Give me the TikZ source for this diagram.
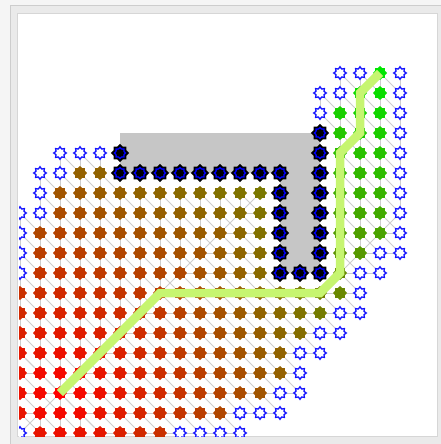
\documentclass[tikz,border=0pt]{standalone}
\usetikzlibrary{shapes.geometric}
\definecolor{rstart}{RGB}{255,0,0}
\definecolor{gend}{RGB}{0,230,0}
\definecolor{openblue}{RGB}{20,20,255}
\definecolor{wallblue}{RGB}{0,0,255}
\definecolor{obst}{RGB}{198,198,198}
\definecolor{pathgreen}{RGB}{198,245,112}
\definecolor{meshgray}{RGB}{205,205,205}
\definecolor{framebg}{RGB}{245,245,245}
\definecolor{frameband}{RGB}{234,234,234}
\definecolor{frameline}{RGB}{205,205,205}
\definecolor{panelline}{RGB}{214,214,214}
\pgfdeclarelayer{back}\pgfdeclarelayer{lines}\pgfsetlayers{back,lines,main}
\def\tF{F}\def\tB{B}\def\tW{W}
\newcommand\gettype[2]{\ifcsname T-#1-#2\endcsname\edef\tp{\csname T-#1-#2\endcsname}\else\def\tp{N}\fi}
\newcommand\settype[3]{\expandafter\xdef\csname T-#1-#2\endcsname{#3}}
\newif\ifopen
\newcommand\isopen[2]{\gettype{#1}{#2}\openfalse\ifx\tp\tF\opentrue\fi\ifx\tp\tB\opentrue\fi}
\newcommand\drawlinks[2]{%
  \pgfmathtruncatemacro\cn{#1+1}\pgfmathtruncatemacro\rn{#2+1}%
  \isopen{\cn}{\rn}%
  \ifopen\draw[meshline] (n-#1-#2) -- (n-\cn-\rn);\fi
  \pgfmathtruncatemacro\isR{(((#1>16)&&(#2<11))||((#1==16)&&(#2<3))) ? 1 : 0}%
  \ifnum\isR=1 \def\ox{17}\def\oy{10}\else\def\ox{3}\def\oy{16}\fi
  \pgfmathtruncatemacro\ddx{#1-\ox}%
  \pgfmathtruncatemacro\ddy{\oy-#2}%
  \pgfmathtruncatemacro\sx{\ddx>0 ? 1 : (\ddx<0 ? -1 : 0)}%
  \pgfmathtruncatemacro\sy{\ddy>0 ? 1 : (\ddy<0 ? -1 : 0)}%
  \pgfmathtruncatemacro\pc{abs(\ddy)>abs(\ddx) ? #1 : #1-(\sx)}%
  \pgfmathtruncatemacro\pr{abs(\ddx)>abs(\ddy) ? #2 : #2+(\sy)}%
  \ifnum\isR=1 \ifnum\ddx=0 \ifnum\ddy=0 \def\pc{16}\def\pr{11}\fi\fi\fi
  \isopen{\pc}{\pr}%
  \ifnum\pc=#1 \ifnum\pr=#2 \openfalse\fi\fi
  \ifopen\draw[meshline] (n-#1-#2) -- (n-\pc-\pr);\fi
}
\tikzset{
  meshline/.style={draw=meshgray, line width=1pt},
  fcell/.style={star, star points=8, star point ratio=1.3, minimum size=14pt, inner sep=0pt, draw=none},
  ocell/.style={star, star points=8, star point ratio=1.45, minimum size=12.5pt, inner sep=0pt, draw=openblue, line width=1.3pt, fill=white},
  wcell/.style={star, star points=8, star point ratio=1.3, minimum size=11pt, inner sep=0pt, fill=black, draw=black, double=wallblue, double distance=1.3pt, line width=1.9pt},
  pathline/.style={draw=pathgreen, line width=8.5pt, line cap=butt, line join=miter},
}
\begin{document}
\begin{tikzpicture}[x=1pt, y=-1pt]
\useasboundingbox (0,0) rectangle (441,444);
\begin{pgfonlayer}{back}
\fill[framebg] (0,0) rectangle (441,444);
\filldraw[fill=frameband, draw=frameline, line width=1pt] (10.5,5.5) rectangle (460,460);
\filldraw[fill=white, draw=panelline, line width=1pt] (17.5,13.5) rectangle (437.5,436.5);
\end{pgfonlayer}
\fill[obst] (120,133) -- (320,133) -- (320,273) -- (280,273) -- (280,173) -- (120,173) -- cycle;
\begin{scope}
\clip (19,14) rectangle (437,436);
\foreach \ri/\a/\b in {0/19/19, 1/18/19, 2/17/19, 3/17/19, 4/17/19, 5/4/5, 5/17/19, 6/3/13, 6/17/19, 7/3/13, 7/17/19, 8/2/13, 8/17/19, 9/2/13, 9/17/18, 10/2/13, 10/17/17, 11/1/17, 12/1/16, 13/1/15, 14/1/14, 15/1/14, 16/1/13, 17/1/11, 18/2/8}{
  \foreach \ci in {\a,...,\b}{
    \pgfmathsetmacro\g{((\ci>16)&&(\ri<11)) ? 16.4853+max(abs(\ci-17),abs(\ri-10))+0.41421*min(abs(\ci-17),abs(\ri-10)) : max(abs(\ci-3),abs(\ri-16))+0.41421*min(abs(\ci-3),abs(\ri-16))}
    \pgfmathtruncatemacro\p{round(100-100*\g/27.3137)}
    \node[fcell, fill=rstart!\p!gend] (n-\ci-\ri) at ({20*\ci},{73+20*\ri}) {};
    \settype{\ci}{\ri}{F}
  }
}
\foreach \ci/\ri in {17/0,18/0,20/0,16/1,17/1,20/1,16/2,20/2,20/3,3/4,4/4,5/4,20/4,2/5,3/5,20/5,2/6,20/6,1/7,2/7,20/7,1/8,20/8,1/9,19/9,20/9,1/10,18/10,19/10,18/11,17/12,18/12,16/13,17/13,15/14,16/14,15/15,14/16,15/16,12/17,13/17,14/17,1/18,9/18,10/18,11/18,12/18}{
  \node[ocell] (n-\ci-\ri) at ({20*\ci},{73+20*\ri}) {};
  \settype{\ci}{\ri}{B}
}
\foreach \ci/\ri in {16/3,6/4,16/4,6/5,7/5,8/5,9/5,10/5,11/5,12/5,13/5,14/5,16/5,14/6,16/6,14/7,16/7,14/8,16/8,14/9,16/9,14/10,15/10,16/10}{
  \node[wcell] (n-\ci-\ri) at ({20*\ci},{73+20*\ri}) {};
  \settype{\ci}{\ri}{W}
}
\end{scope}
\begin{pgfonlayer}{lines}
\foreach \ci in {1,...,20}{\foreach \ri in {0,...,18}{\isopen{\ci}{\ri}\ifopen\drawlinks{\ci}{\ri}\fi}}
\end{pgfonlayer}
\draw[pathline] (n-19-0.center) -- (n-18-1.center) -- (n-18-3.center) -- (n-17-4.center) -- (n-17-10.center) -- (n-16-11.center) -- (n-8-11.center) -- (n-3-16.center);
\end{tikzpicture}
\end{document}
